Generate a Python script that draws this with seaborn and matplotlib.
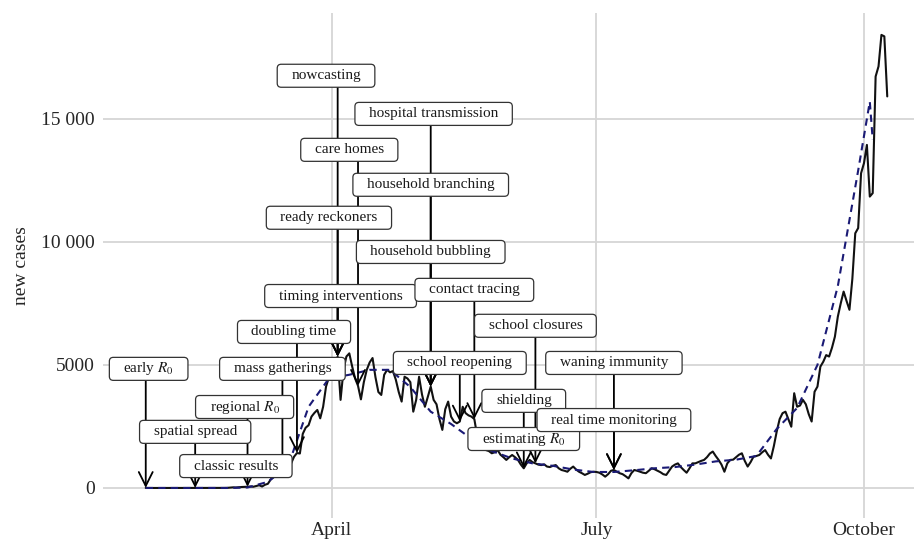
import pandas as pd
import matplotlib
matplotlib.use("Agg")
import matplotlib.pyplot as plt
import matplotlib.dates as mdates
from matplotlib.patches import FancyBboxPatch
from matplotlib.transforms import IdentityTransform
import seaborn as sns

# ---------------------------------------------------------------
# daily new cases (28 Jan - 9 Oct 2020)
# ---------------------------------------------------------------
START = "2020-01-28"

cases_jan_feb = [2, 0, 0, 0, 0, 0, 1, 0, 1, 2, 4, 0, 0, 1, 0, 0, 0, 0, 0, 0,
                 0, 0, 0, 0, 0, 4, 0, 3, 5]
cases_march = [13, 25, 20, 30, 40, 45, 50, 60, 50, 80, 110, 60, 130, 170,
               350, 450, 550, 600, 700, 680, 900, 1000, 1270, 1420, 1400, 2200,
               2450, 2550, 2900, 3050, 3170, 2830, 3300, 4120, 4500]
cases_apr_may = [4900, 5000, 5340, 3580, 4800, 5340, 5470, 4930, 4450, 4150,
                 3600, 4300, 4800, 5100, 5280, 4500, 3900, 3780, 4600, 4800,
                 4700, 4750, 4400, 3900, 3510, 4520, 4450, 4300, 3100, 3580,
                 4520, 3800, 3300, 3700, 4120, 3580, 3400, 2800, 2360, 3200,
                 3510, 2900, 2700, 2630, 2700, 3300, 3040, 2950, 2900]
cases_summer = [2800, 2100, 1900, 1700, 1540, 1500, 1410, 1450, 1540, 1350,
                1250, 1140, 1250, 1340, 1250, 1140, 950, 800, 1000, 1140,
                1050, 1000, 950, 930, 960, 870, 850, 900, 930, 800,
                730, 700, 660, 780, 870, 750, 660, 600, 530, 580,
                640, 660, 650, 620, 550, 460, 560, 700, 730, 660,
                600, 560, 480, 390, 600, 730, 700, 660, 620, 600,
                700, 800, 760, 700, 640, 560, 530, 700, 870, 950,
                1000, 850, 730, 620, 800, 1000, 1000, 1050, 1100, 1140,
                1250, 1400, 1480, 1300, 1140, 950, 660, 1000, 1140, 1150,
                1250, 1350, 1410, 1100, 870, 1050, 1270, 1300, 1340, 1450,
                1540, 1350, 1200]
cases_autumn = [1700, 2300, 2800, 3040, 3100, 2800, 2490, 3850, 3300, 3350,
                3580, 3400, 3000, 2700, 3910, 4120, 4930, 5130, 5400, 5340,
                5700, 6150, 6960, 7500, 7980, 7600, 7240, 8500, 10350, 10560,
                12790, 13200, 13940, 11840, 11980, 16720, 17130, 18410, 18350,
                15910]

# smoothed (dashed) curve: days after 28 Jan and values
smooth_day = [0, 7, 14, 21, 28, 35, 42, 49, 56, 63, 70, 77, 84, 91, 98, 105,
              112, 119, 126, 133, 140, 147, 154, 161, 168, 175, 182, 189, 196,
              203, 210, 217, 224, 231, 238, 245, 249, 250]
smooth_val = [0, 0, 0, 0, 0, 20, 250, 900, 3300, 4450, 4600, 4800, 4800, 4100,
              3100, 2600, 2000, 1500, 1200, 1000, 900, 750, 650, 650, 720, 800,
              850, 950, 1080, 1150, 1300, 2400, 3250, 5000, 8200, 12900, 15700,
              14150]

# annotations
labels = ["early $R_0$", "spatial spread", "regional $R_0$", "classic results",
          "mass gatherings", "doubling time", "nowcasting", "ready reckoners",
          "timing interventions", "care homes", "hospital transmission",
          "household branching", "household bubbling", "school reopening",
          "contact tracing", "shielding", "estimating $R_0$", "school closures",
          "waning immunity", "real time monitoring"]
event_dates = ["2020-01-28", "2020-02-14", "2020-03-03", None,
               "2020-03-15", "2020-03-20", "2020-04-03", "2020-04-03",
               "2020-04-03", "2020-04-10", "2020-05-05",
               "2020-05-05", "2020-05-05", "2020-05-15",
               "2020-05-20", "2020-06-06", None, "2020-06-10",
               "2020-07-07", "2020-07-07"]
label_dates = ["2020-01-29", "2020-02-14", "2020-03-02", "2020-02-28",
               "2020-03-15", "2020-03-19", "2020-03-30", "2020-03-31",
               "2020-04-04", "2020-04-07", "2020-05-06",
               "2020-05-05", "2020-05-05", "2020-05-15",
               "2020-05-20", "2020-06-06", "2020-06-06", "2020-06-10",
               "2020-07-07", "2020-07-07"]
label_y = [4840, 2280, 3290, 890, 4840, 6340, 16750, 10980, 7800, 13740, 15200,
           12320, 9590, 5080, 8050, 3540, 1990, 6590, 5080, 2760]

tick_dates = ["2020-04-01", "2020-07-01", "2020-10-01"]
tick_labels = ["April", "July", "October"]
ytick_vals = [0, 5000, 10000, 15000]
ytick_labels = ["0", "5000", "10 000", "15 000"]

# ---------------------------------------------------------------
cases = cases_jan_feb + cases_march + cases_apr_may + cases_summer + cases_autumn
df = pd.DataFrame({"date": pd.date_range(START, periods=len(cases), freq="D"),
                   "cases": cases})
df_smooth = pd.DataFrame({"date": pd.Timestamp(START) + pd.to_timedelta(smooth_day, unit="D"),
                          "cases": smooth_val})
lookup = df.set_index("date")["cases"]

sns.set_style("white")
plt.rcParams["font.family"] = ["Liberation Serif", "DejaVu Serif"]
plt.rcParams["mathtext.fontset"] = "stix"

fig = plt.figure(figsize=(9.14, 5.41), dpi=100)
ax = fig.add_axes([103 / 914, 23 / 541, 811 / 914, 505 / 541])

sns.lineplot(data=df, x="date", y="cases", color="#111111", lw=1.5, ax=ax, zorder=2)
sns.lineplot(data=df_smooth, x="date", y="cases", color="#1a1a75", lw=1.5,
             linestyle=(0, (3.5, 2.5)), ax=ax, zorder=2.5)

apr1 = mdates.date2num(pd.Timestamp("2020-04-01"))
ax.set_xlim(apr1 - 78.7, apr1 + 200.2)
ax.set_ylim(-1220, 19300)
ax.set_xticks(mdates.date2num(pd.to_datetime(tick_dates)))
ax.set_xticklabels(tick_labels)
ax.set_yticks(ytick_vals)
ax.set_yticklabels(ytick_labels)
ax.grid(True, color="#d6d6d6", lw=1.3)
ax.set_axisbelow(True)
for s in ax.spines.values():
    s.set_visible(False)
ax.tick_params(axis="y", length=4, color="#d6d6d6", width=1.3, labelsize=14, pad=2)
ax.tick_params(axis="x", length=0, labelsize=14, pad=3)
ax.set_xlabel("")
ax.set_ylabel("new cases", fontsize=14, labelpad=8)

# arrows from labels down to the curve
for ed, ly in zip(event_dates, label_y):
    if ed is None:
        continue
    xn = mdates.date2num(pd.Timestamp(ed))
    yv = lookup.loc[pd.Timestamp(ed)]
    ax.annotate("", xy=(xn, yv), xytext=(xn, ly),
                arrowprops=dict(arrowstyle="->,head_length=1.0,head_width=0.5",
                                lw=1.3, color="black", shrinkA=0, shrinkB=0,
                                mutation_scale=10),
                zorder=3)

texts = []
for lab, ld, ly in zip(labels, label_dates, label_y):
    t = ax.text(mdates.date2num(pd.Timestamp(ld)), ly, lab, ha="center",
                va="center", fontsize=11, color="#1a1a1a", zorder=6)
    texts.append(t)

fig.canvas.draw()
renderer = fig.canvas.get_renderer()
for t in texts:
    bb = t.get_window_extent(renderer)
    yc = (bb.y0 + bb.y1) / 2
    box = FancyBboxPatch((bb.x0 - 14, yc - 11.5), bb.width + 28, 23,
                         boxstyle="round,pad=0,rounding_size=4",
                         transform=IdentityTransform(), fc="white",
                         ec="#333333", lw=0.9, zorder=5)
    ax.add_patch(box)

fig.savefig("out.png", dpi=100)
